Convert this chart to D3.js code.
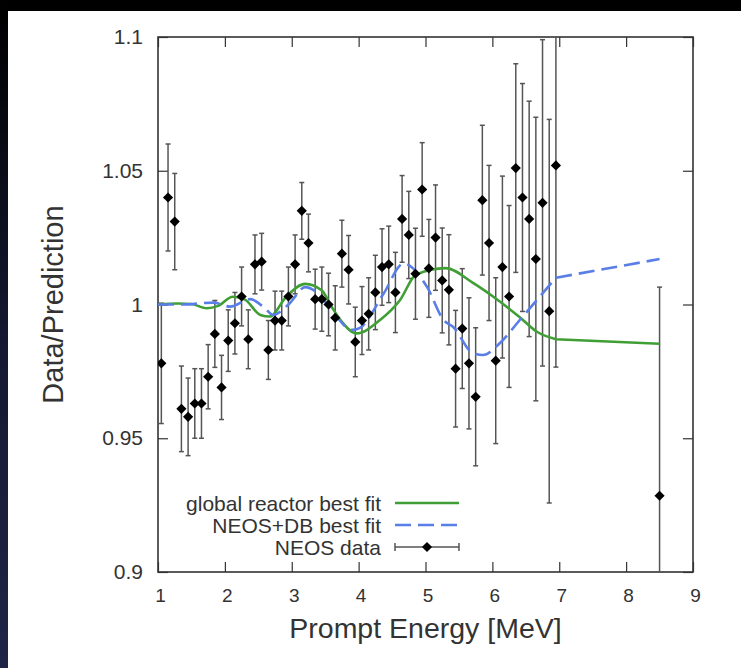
<!DOCTYPE html>
<html><head><meta charset="utf-8">
<script src="https://cdn.jsdelivr.net/npm/d3@7"></script>
<style>
html,body{margin:0;padding:0;background:#fff;}
svg{display:block;font-family:"Liberation Sans",Arial,Helvetica,sans-serif;}
</style></head>
<body><svg id="chart" width="741" height="668"></svg>
<script>
// ---- data ----
const binCenters = [1.05,1.15,1.25,1.35,1.45,1.55,1.65,1.75,1.85,1.95,
  2.05,2.15,2.25,2.35,2.45,2.55,2.65,2.75,2.85,2.95,
  3.05,3.15,3.25,3.35,3.45,3.55,3.65,3.75,3.85,3.95,
  4.05,4.15,4.25,4.35,4.45,4.55,4.65,4.75,4.85,4.95,
  5.05,5.15,5.25,5.35,5.45,5.55,5.65,5.75,5.85,5.95,
  6.05,6.15,6.25,6.35,6.45,6.55,6.65,6.75,6.85,6.95,8.5];
const ratio = [0.978,1.040,1.031,0.961,0.958,0.963,0.963,0.973,0.989,0.969,
  0.9865,0.993,1.003,0.987,1.015,1.016,0.983,0.994,0.994,1.003,
  1.015,1.035,1.023,1.002,1.002,1.000,0.995,1.019,1.013,0.986,
  0.994,0.9965,1.0045,1.014,1.015,1.0045,1.032,1.026,1.0115,1.043,
  1.0135,1.025,1.009,1.0055,0.976,0.991,0.978,0.9655,1.039,1.023,
  0.979,1.014,1.003,1.051,1.040,1.032,1.017,1.038,0.9975,1.052,0.9285];
const ratioErr = [0.0225,0.020,0.018,0.016,0.0145,0.013,0.013,0.012,0.0125,0.012,
  0.0115,0.0115,0.011,0.011,0.011,0.0106,0.011,0.011,0.011,0.011,
  0.011,0.0106,0.0108,0.0112,0.012,0.0117,0.012,0.0125,0.0128,0.013,
  0.0127,0.0135,0.0139,0.0143,0.0143,0.015,0.0162,0.0163,0.017,0.0175,
  0.0183,0.0197,0.0196,0.0206,0.0218,0.0224,0.0245,0.0258,0.028,0.029,
  0.031,0.034,0.034,0.039,0.0426,0.044,0.053,0.061,0.0717,0.0754,0.078];

const globalFitE = [1.0,1.3,1.5,1.73,1.9,2.12,2.3,2.53,2.67,2.92,3.2,3.45,3.6,3.72,3.97,4.32,4.62,4.86,5.3,5.71,6.01,6.41,6.66,6.95,8.5];
const globalFitV = [1.000,1.0004,1.0002,0.9986,0.9995,1.0029,1.0018,0.9961,0.9955,1.003,1.0077,1.0052,0.999,0.9945,0.9892,0.9942,1.0017,1.0112,1.0136,1.0081,1.003,0.9952,0.9899,0.9870,0.9853];

const neosFitE = [1.0,1.35,1.83,2.08,2.38,2.6,2.72,2.97,3.2,3.4,3.65,3.9,4.02,4.37,4.67,5.02,5.27,5.41,5.71,5.86,6.11,6.41,6.95,8.5];
const neosFitV = [1.000,1.000,1.0007,0.9992,1.002,0.9986,0.9961,1.0005,1.0065,1.004,0.996,0.9905,0.9913,1.0039,1.0153,1.0067,0.9942,0.9917,0.9818,0.9811,0.9855,0.9942,1.0100,1.017];

const xTicks = [1,2,3,4,5,6,7,8,9];
const yTicks = [0.9,0.95,1,1.05,1.1];
const yTickLabels = ["0.9","0.95","1","1.05","1.1"];
const legendLabels = ["global reactor best fit","NEOS+DB best fit","NEOS data"];

// ---- drawing ----
const W = 741, H = 668;
const m = {left:158, right:48, top:37, bottom:96};
const pw = W - m.left - m.right, ph = H - m.top - m.bottom;
const svg = d3.select("#chart");

// dark slide background band
const defs = svg.append("defs");
const lg = defs.append("linearGradient").attr("id","bandGrad").attr("x1",0).attr("y1",0).attr("x2",0).attr("y2",1);
lg.append("stop").attr("offset","0%").attr("stop-color","#000");
lg.append("stop").attr("offset","50%").attr("stop-color","#141830");
lg.append("stop").attr("offset","100%").attr("stop-color","#1f2547");
svg.append("rect").attr("x",0).attr("y",0).attr("width",W).attr("height",11).attr("fill","#000");
svg.append("rect").attr("x",0).attr("y",0).attr("width",8).attr("height",H).attr("fill","url(#bandGrad)");

defs.append("clipPath").attr("id","plotClip").append("rect")
  .attr("x",m.left).attr("y",m.top).attr("width",pw).attr("height",ph);

const x = d3.scaleLinear().domain([1,9]).range([m.left, m.left+pw]);
const y = d3.scaleLinear().domain([0.9,1.1]).range([m.top+ph, m.top]);

const axisCol = "#333";
const tickLen = 10;

const gB = svg.append("g").attr("transform",`translate(0,${m.top+ph})`)
  .call(d3.axisBottom(x).tickValues(xTicks).tickSize(-tickLen).tickPadding(20).tickFormat(d3.format("d")));
const gT = svg.append("g").attr("transform",`translate(0,${m.top})`)
  .call(d3.axisTop(x).tickValues(xTicks).tickSize(-tickLen).tickFormat(""));
const gL = svg.append("g").attr("transform",`translate(${m.left},0)`)
  .call(d3.axisLeft(y).tickValues(yTicks).tickSize(-tickLen).tickPadding(15).tickFormat((d,i)=>yTickLabels[i]));
const gR = svg.append("g").attr("transform",`translate(${m.left+pw},0)`)
  .call(d3.axisRight(y).tickValues(yTicks).tickSize(-tickLen).tickFormat(""));
[gB,gT,gL,gR].forEach(g=>{
  g.select(".domain").remove();
  g.selectAll(".tick line").attr("stroke",axisCol).attr("stroke-width",1.2);
  g.selectAll(".tick text").attr("fill","#333").attr("font-family",'"Liberation Sans",Arial,sans-serif');
});
gB.selectAll(".tick text").attr("font-size",19).attr("dy","0.71em").attr("transform","translate(2,-3)");
gL.selectAll(".tick text").attr("font-size",21);

svg.append("rect").attr("x",m.left).attr("y",m.top).attr("width",pw).attr("height",ph)
  .attr("fill","none").attr("stroke",axisCol).attr("stroke-width",1.6);

const plot = svg.append("g").attr("clip-path","url(#plotClip)");

// error bars
const pts = binCenters.map((e,i)=>({e, v:ratio[i], err:ratioErr[i]}));
const ebCol = "#555";
const eb = plot.append("g");
pts.forEach(p=>{
  const cx = x(p.e);
  eb.append("line").attr("x1",cx).attr("x2",cx).attr("y1",y(p.v+p.err)).attr("y2",y(p.v-p.err))
    .attr("stroke",ebCol).attr("stroke-width",1.5);
  [p.v+p.err,p.v-p.err].forEach(t=>{
    eb.append("line").attr("x1",cx-2.5).attr("x2",cx+2.5).attr("y1",y(t)).attr("y2",y(t))
      .attr("stroke",ebCol).attr("stroke-width",1.5);
  });
});

// fit curves: smooth through the binned region, straight segment to the last wide bin
const smooth = d3.line().x(d=>x(d[0])).y(d=>y(d[1])).curve(d3.curveMonotoneX);
function fitPath(E,V){
  const pts = d3.zip(E,V);
  const last = pts[pts.length-1];
  return smooth(pts.slice(0,-1)) + "L" + x(last[0]) + "," + y(last[1]);
}
const greenCol = "#3f9f35", blueCol = "#5a7ee8";
plot.append("path").attr("d",fitPath(globalFitE, globalFitV))
  .attr("fill","none").attr("stroke",greenCol).attr("stroke-width",2.6);
plot.append("path").attr("d",fitPath(neosFitE, neosFitV))
  .attr("fill","none").attr("stroke",blueCol).attr("stroke-width",2.6).attr("stroke-dasharray","16,7");

// diamonds
const diamond = d3.symbol().type(d3.symbolSquare).size(52);
plot.append("g").selectAll("path").data(pts).join("path")
  .attr("d",diamond)
  .attr("transform",d=>`translate(${x(d.e)},${y(d.v)}) rotate(45)`)
  .attr("fill","#000");

// legend
const lgX = 381, lsX1 = 395, lsX2 = 459;
const rows = [503, 525, 547];
const leg = svg.append("g").attr("font-size",21).attr("fill","#333");
legendLabels.forEach((t,i)=>{
  leg.append("text").attr("x",lgX).attr("y",rows[i]).attr("dy","0.36em").attr("text-anchor","end").text(t);
});
leg.append("line").attr("x1",lsX1).attr("x2",lsX2).attr("y1",rows[0]).attr("y2",rows[0])
  .attr("stroke",greenCol).attr("stroke-width",2.6);
leg.append("line").attr("x1",lsX1).attr("x2",lsX2).attr("y1",rows[1]).attr("y2",rows[1])
  .attr("stroke",blueCol).attr("stroke-width",2.6).attr("stroke-dasharray","16,7");
leg.append("line").attr("x1",lsX1).attr("x2",lsX2).attr("y1",rows[2]).attr("y2",rows[2])
  .attr("stroke",ebCol).attr("stroke-width",1.5);
[lsX1,lsX2].forEach(xx=>leg.append("line").attr("x1",xx).attr("x2",xx).attr("y1",rows[2]-4).attr("y2",rows[2]+4)
  .attr("stroke",ebCol).attr("stroke-width",1.5));
leg.append("path").attr("d",diamond).attr("transform",`translate(${(lsX1+lsX2)/2},${rows[2]}) rotate(45)`).attr("fill","#000");

// axis titles
svg.append("text").attr("x",m.left+pw/2).attr("y",638).attr("text-anchor","middle")
  .attr("font-size",28.5).attr("fill","#333").text("Prompt Energy [MeV]");
svg.append("text").attr("transform",`translate(63,${m.top+ph/2}) rotate(-90)`).attr("text-anchor","middle")
  .attr("font-size",29).attr("fill","#333").text("Data/Prediction");
</script></body></html>
